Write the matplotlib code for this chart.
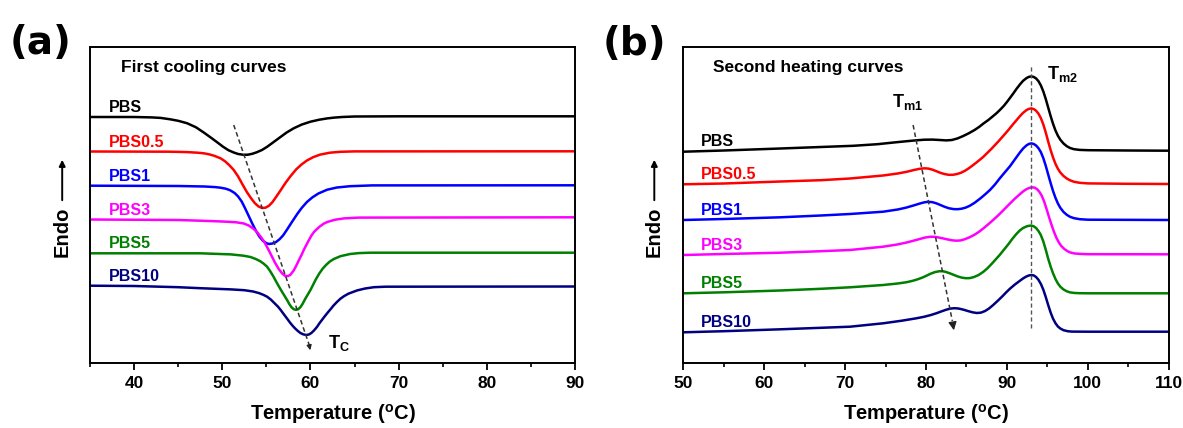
import matplotlib
matplotlib.use('Agg')
import matplotlib.pyplot as plt
from matplotlib.ticker import MultipleLocator

plt.rcParams['font.family'] = ['Liberation Sans', 'DejaVu Sans']
plt.rcParams['font.weight'] = 'bold'
plt.rcParams['mathtext.fontset'] = 'custom'
plt.rcParams['mathtext.rm'] = 'Liberation Sans:bold'
plt.rcParams['mathtext.it'] = 'Liberation Sans:bold'
plt.rcParams['mathtext.bf'] = 'Liberation Sans:bold'

# ---------------- data ----------------
names = ['PBS', 'PBS0.5', 'PBS1', 'PBS3', 'PBS5', 'PBS10']
colors = ['#000000', '#ff0000', '#0000ff', '#ff00ff', '#008000', '#000080']

# (a) first cooling curves (stacked, arbitrary units)
cool_pbs_T = [35, 40, 42, 43, 44.1, 45, 46, 47, 47.9, 48.8, 49.5, 50.1, 50.7, 51.3, 51.8, 52.4, 52.9, 53.4, 53.9,
              54.5, 55.1, 55.8, 56.6, 57.3, 58.1, 59.0, 60.0, 61.0, 61.9, 62.7, 63.6, 65, 70, 90]
cool_pbs_y = [246, 246, 245.6, 245.1, 243.7, 242.2, 239.8, 235.8, 230.5, 224.8, 220.2, 216.2, 212.8, 210.5, 209,
              208.2, 208.3, 209.2, 210.7, 213, 216.3, 220.8, 226, 230.5, 234.7, 238.4, 241.3, 243.3, 244.6, 245.4,
              246, 246.5, 246.7, 246.7]

cool_pbs05_T = [35, 44, 46, 47.2, 47.9, 48.5, 49.1, 49.8, 50.3, 50.8, 51.3, 51.8, 52.3, 52.8, 53.3, 53.7, 54.1,
                54.5, 54.9, 55.3, 55.7, 56.1, 56.6, 57.2, 57.8, 58.4, 59.0, 59.6, 60.3, 61.1, 62.2, 63.4, 65, 90]
cool_pbs05_y = [211.5, 211.3, 210.9, 210.3, 209.7, 208.7, 207.2, 204.7, 201.8, 197.8, 193, 186.5, 178.5, 170.8,
                164.3, 159.8, 156.6, 155, 155.3, 157.3, 161, 166, 172.5, 180.5, 187.5, 193.8, 198.6, 202.5, 205.8,
                208.4, 210.3, 211.2, 211.6, 211.7]

cool_pbs1_T = [35, 45, 48, 49.2, 49.8, 50.4, 50.9, 51.4, 51.8, 52.2, 52.6, 53.0, 53.4, 53.8, 54.2, 54.6, 55.0,
               55.3, 55.7, 56.1, 56.5, 56.9, 57.35, 57.9, 58.5, 59.0, 59.6, 60.2, 60.9, 61.9, 63.0, 64.5, 67, 90]
cool_pbs1_y = [177.3, 177, 176.5, 175.9, 175.3, 174.3, 172.7, 170, 166.5, 161.5, 154.5, 147, 139.5, 132.5, 126.5,
               122.3, 119.8, 119, 119.5, 121, 123.8, 127.6, 133.5, 141, 149, 155, 161, 165.5, 169.5, 173.3, 175.5,
               176.8, 177.6, 177.7]

cool_pbs3_T = [35, 45, 47.5, 50, 51.5, 52.4, 53.0, 53.5, 53.94, 54.4, 54.8, 55.2, 55.6, 56.0, 56.4, 56.8, 57.1,
               57.4, 57.7, 58.1, 58.4, 58.7, 59.0, 59.24, 59.5, 59.8, 60.1, 60.4, 60.8, 61.1, 61.5, 61.9, 62.8,
               63.8, 65.5, 90]
cool_pbs3_y = [143.5, 143, 142.3, 141.5, 140.8, 139.6, 137.5, 134.5, 131, 125.8, 120.5, 114, 107, 100, 94, 89.5,
               87.3, 86.8, 88, 92.5, 97.5, 103, 108.3, 113, 117.5, 122.5, 127.3, 131, 134.5, 136.8, 139.3, 141,
               143.3, 144.6, 145.4, 145.7]

cool_pbs5_T = [35, 47.5, 51, 52.4, 53.2, 53.8, 54.3, 54.7, 55.08, 55.4, 55.8, 56.2, 56.6, 57.0, 57.35, 57.6, 57.85,
               58.1, 58.35, 58.6, 58.86, 59.1, 59.4, 59.7, 60.0, 60.3, 60.6, 61.0, 61.4, 61.8, 62.2, 62.65, 63.4,
               64.5, 65.5, 66.8, 90]
cool_pbs5_y = [109.7, 109.7, 108.6, 107.3, 106, 104, 101.8, 99.3, 96.3, 92.3, 86.5, 80, 73.8, 68, 63, 59, 55.8,
               53.8, 53.2, 53.7, 55.8, 59, 64, 68.5, 73, 78.2, 83.5, 89.5, 94.5, 98.3, 101.5, 104, 106.8, 109,
               109.9, 110.3, 110.3]

cool_pbs10_T = [35, 40, 45, 47.5, 51, 52.5, 53.5, 54.2, 54.7, 55.08, 55.5, 55.9, 56.3, 56.6, 57.0, 57.4, 57.7,
                58.0, 58.3, 58.6, 58.86, 59.2, 59.55, 59.85, 60.1, 60.4, 60.76, 61.0, 61.3, 61.6, 61.9, 62.3, 62.6,
                63.0, 63.4, 63.8, 64.3, 65.3, 66.2, 67.2, 68.5, 90]
cool_pbs10_y = [77.3, 77, 75.8, 74.8, 73.6, 72.8, 71.5, 69.8, 68, 66.3, 63.5, 60, 56.5, 53.3, 48.5, 43.8, 40.2, 37,
                34.2, 31.8, 30, 28.6, 28, 28.6, 30, 32.5, 36.3, 39.5, 43, 46.5, 49.8, 54, 57.3, 61, 64.3, 66.8,
                69.3, 72.6, 74.5, 75.8, 76.3, 76.5]

# (b) second heating curves (stacked, arbitrary units)
heat_pbs_T = [50, 55, 62, 67, 71, 74, 76, 77.5, 78.8, 79.8, 80.8, 81.7, 82.5, 83.2, 83.9, 84.6, 85.3, 86.0, 86.6,
              87.1, 87.7, 88.2, 88.7, 89.1, 89.6, 90.0, 90.4, 90.8, 91.2, 91.6, 92.0, 92.4, 92.7, 93.0, 93.3, 93.6,
              93.9, 94.2, 94.5, 94.8, 95.1, 95.4, 95.7, 96.0, 96.3, 96.6, 97.0, 97.4, 97.8, 98.3, 99, 100, 105, 110]
heat_pbs_y = [211.3, 212.5, 214.5, 216, 217.2, 218.8, 220.5, 221.7, 222.7, 223.3, 223.4, 223, 222.6, 223, 224.6,
              227, 229.8, 233, 236.3, 239.5, 243, 246.3, 249.7, 252.8, 257, 261, 265.3, 269.7, 274.3, 278.5,
              282.2, 284.8, 286.1, 286.6, 286.1, 284.6, 281.8, 277.5, 271.5, 264, 255.5, 247, 239.2, 232.5, 227.3,
              223.3, 219.5, 216.8, 215, 213.8, 213.1, 212.8, 212.5, 212.3]

heat_pbs05_T = [50, 55, 62, 67, 70.6, 74.7, 76.5, 77.6, 78.5, 79.2, 79.8, 80.3, 80.8, 81.3, 81.8, 82.3, 82.8, 83.3,
                83.8, 84.3, 84.8, 85.3, 85.8, 86.4, 87.1, 87.6, 88.1, 88.6, 89.1, 89.6, 90.2, 90.7, 91.2, 91.6,
                92.0, 92.4, 92.7, 93.0, 93.3, 93.6, 93.9, 94.2, 94.5, 94.8, 95.1, 95.4, 95.7, 96.0, 96.3, 96.6,
                97.0, 97.4, 97.8, 98.3, 99, 100, 105, 110]
heat_pbs05_y = [178.7, 179.5, 181.5, 182.8, 184.5, 187.5, 189.5, 191.2, 193, 194.2, 194.7, 194.4, 193.3, 191.7,
                190.1, 188.9, 188.2, 188.2, 188.9, 190.2, 192.2, 194.8, 197.8, 201.6, 206.3, 210.3, 214.3, 218.6,
                223, 227.6, 233.2, 238.2, 243, 246.8, 250.2, 252.8, 254.1, 254.6, 254, 252.3, 249.3, 244.8, 238.5,
                230.5, 221.5, 213, 205.5, 199.2, 194.2, 190.5, 187, 184.5, 182.7, 181.2, 180.2, 179.6, 179.2, 179]

heat_pbs1_T = [50, 55, 62, 67, 70.6, 74.7, 76.5, 77.5, 78.4, 79.2, 79.8, 80.3, 80.8, 81.3, 81.8, 82.3, 82.8, 83.4,
               83.9, 84.4, 84.9, 85.4, 86.0, 86.7, 87.3, 87.9, 88.5, 89.1, 89.7, 90.4, 91.0, 91.6, 92.0, 92.4, 92.7,
               93.0, 93.3, 93.6, 93.9, 94.2, 94.5, 94.8, 95.1, 95.4, 95.7, 96.0, 96.3, 96.6, 97.0, 97.4, 97.8, 98.3,
               99, 100, 110]
heat_pbs1_y = [143, 144, 145.7, 147.5, 149, 151.3, 153.5, 155.3, 157.4, 159.4, 160.7, 161.2, 160.8, 159.6, 157.9,
               156.2, 154.8, 153.9, 153.8, 154.3, 155.4, 157.2, 160.2, 164.5, 168.6, 173, 178.3, 184.5, 190.3, 197,
               203.8, 210.5, 214.5, 217.5, 219, 219.6, 219.1, 217.5, 214.8, 210.8, 204.8, 197.2, 188.5, 180, 172,
               165.2, 159.5, 155.2, 151, 148.2, 146.2, 144.8, 143.8, 143.3, 143]

heat_pbs3_T = [50, 55, 62, 67, 70.6, 74.7, 76.5, 77.6, 78.5, 79.3, 79.9, 80.5, 81.0, 81.5, 82.1, 82.7, 83.3, 83.8,
               84.3, 84.8, 85.4, 86.0, 86.6, 87.3, 87.8, 88.3, 88.9, 89.4, 89.9, 90.4, 91.0, 91.6, 92.0, 92.4, 92.8,
               93.1, 93.4, 93.7, 94.0, 94.3, 94.6, 94.9, 95.2, 95.5, 95.8, 96.1, 96.4, 96.7, 97.1, 97.5, 97.8, 98.3,
               99, 100, 110]
heat_pbs3_y = [108, 109, 110.3, 111.8, 113, 116.3, 118.6, 120.5, 122.4, 124.2, 125.5, 126.2, 126.2, 125.6, 124.6,
               123.5, 122.6, 122.3, 122.6, 123.8, 125.8, 128.3, 131.5, 136, 139.5, 143, 147.5, 151.5, 155.6, 159.7,
               164.5, 168.8, 171.6, 173.8, 175.2, 175.7, 175.4, 174, 171.3, 167.3, 161.5, 154, 146, 138.5, 131.5,
               125.5, 120.8, 117.2, 114, 111.8, 110.6, 109.6, 109.1, 108.8, 108.7]

heat_pbs5_T = [50, 55, 62, 67, 70.6, 74.7, 76.5, 77.6, 78.4, 79.0, 79.6, 80.1, 80.6, 81.1, 81.6, 82.0, 82.4, 82.9,
               83.4, 83.9, 84.4, 84.9, 85.4, 85.9, 86.5, 87.1, 87.6, 88.1, 88.6, 89.1, 89.6, 90.2, 90.7, 91.2, 91.6,
               92.0, 92.4, 92.7, 93.0, 93.3, 93.6, 93.9, 94.2, 94.5, 94.8, 95.1, 95.4, 95.7, 96.0, 96.3, 96.6, 97.0,
               97.4, 97.8, 98.4, 99, 100, 110]
heat_pbs5_y = [69.7, 70.7, 72.5, 74.2, 75.7, 78, 79.5, 80.8, 82.3, 83.8, 85.6, 87.5, 89.4, 90.9, 91.7, 91.8, 91.2,
               89.8, 88.2, 86.6, 85.4, 84.8, 84.9, 85.9, 88, 91.3, 94.8, 99, 103.5, 108, 113, 119, 124.5, 129.3,
               132.6, 135, 136.5, 137.2, 137.4, 136.8, 135, 132, 127.8, 121.5, 113.3, 104.3, 96.5, 89.7, 84, 79.5,
               76.3, 73.5, 71.7, 70.6, 70, 69.8, 69.7, 69.7]

heat_pbs10_T = [50, 55, 62, 67, 70.6, 74.7, 77, 78.8, 79.8, 80.6, 81.3, 81.9, 82.5, 83.0, 83.5, 84.0, 84.6, 85.2,
                85.8, 86.3, 86.8, 87.3, 87.8, 88.3, 88.9, 89.4, 89.9, 90.4, 91.0, 91.6, 92.0, 92.4, 92.7, 93.0, 93.3,
                93.6, 93.9, 94.2, 94.5, 94.8, 95.1, 95.4, 95.7, 96.0, 96.3, 96.6, 97.0, 97.5, 98, 100, 110]
heat_pbs10_y = [30.7, 31.8, 33.7, 35.2, 36.3, 39.7, 42.3, 44.7, 46.3, 48, 49.8, 51.6, 53.3, 54.4, 54.8, 54.5, 53.4,
                51.9, 50.6, 50, 50.4, 52, 54.6, 58, 62.5, 66.4, 70.6, 74.5, 78.6, 82.2, 84.6, 86.5, 87.5, 88, 87.6,
                86, 83.2, 79, 73.3, 66, 58, 50.5, 44.3, 39.8, 36.5, 34.5, 32.8, 31.8, 31.4, 31.3, 31.3]

cool_T = [cool_pbs_T, cool_pbs05_T, cool_pbs1_T, cool_pbs3_T, cool_pbs5_T, cool_pbs10_T]
cool_y = [cool_pbs_y, cool_pbs05_y, cool_pbs1_y, cool_pbs3_y, cool_pbs5_y, cool_pbs10_y]
heat_T = [heat_pbs_T, heat_pbs05_T, heat_pbs1_T, heat_pbs3_T, heat_pbs5_T, heat_pbs10_T]
heat_y = [heat_pbs_y, heat_pbs05_y, heat_pbs1_y, heat_pbs3_y, heat_pbs5_y, heat_pbs10_y]

# ---------------- figure ----------------
W, H = 1183, 428
fig = plt.figure(figsize=(W / 100, H / 100), dpi=100)
axA = fig.add_axes([90 / W, 65 / H, 485 / W, 316 / H])
axB = fig.add_axes([683.4 / W, 65 / H, 485.3 / W, 316 / H])


def style(ax, xlim, major, minor):
    ax.set_xlim(*xlim)
    ax.set_ylim(0, 316)
    ax.set_yticks([])
    ax.xaxis.set_major_locator(MultipleLocator(major))
    ax.xaxis.set_minor_locator(MultipleLocator(minor))
    ax.tick_params(axis='x', which='major', direction='out', length=5, width=1.3,
                   labelsize=12.5, pad=4, colors='black')
    ax.tick_params(axis='x', which='minor', direction='out', length=3, width=1.2)
    for s in ax.spines.values():
        s.set_linewidth(1.4)


style(axA, (35, 90), 10, 5)
style(axB, (50, 110), 10, 5)

for T, y, n, c in zip(cool_T, cool_y, names, colors):
    axA.plot(T, y, color=c, lw=1.8, solid_joinstyle='round')
    axA.text(37.1, y[0] + 5, n, color=c, fontsize=11.5, fontweight='bold', va='baseline', ha='left')

for T, y, n, c in zip(heat_T, heat_y, names, colors):
    axB.plot(T, y, color=c, lw=1.8, solid_joinstyle='round')
    axB.text(52.2, y[0] + 5.5, n, color=c, fontsize=11.5, fontweight='bold', va='baseline', ha='left')

dash = (0, (3, 2))
# cooling: Tc trend arrow
axA.plot([51.3, 59.9], [238, 17], ls=dash, lw=1.1, color='#333333')
axA.annotate('', xy=(60.05, 10), xytext=(59.85, 18),
             arrowprops=dict(arrowstyle='-|>', color='#222222', lw=1, mutation_scale=7))
axA.text(62.0, 15, r'T$_{\rm C}$', fontsize=13, fontweight='bold', va='baseline', ha='left')
axA.text(38.5, 291.3, 'First cooling curves', fontsize=12.5, fontweight='bold', va='baseline', ha='left')

# heating: Tm1 trend arrow and Tm2 line
axB.plot([78.4, 83.25], [238, 42], ls=dash, lw=1.1, color='#333333')
axB.annotate('', xy=(83.5, 30), xytext=(83.25, 42),
             arrowprops=dict(arrowstyle='-|>', color='#222222', lw=1, mutation_scale=12))
axB.plot([93.0, 93.0], [35, 298], ls=dash, lw=1.0, color='#555555')
axB.text(75.75, 256.3, r'T$_{\rm m1}$', fontsize=13, fontweight='bold', va='baseline', ha='left')
axB.text(94.95, 284, r'T$_{\rm m2}$', fontsize=13, fontweight='bold', va='baseline', ha='left')
axB.text(53.6, 291.3, 'Second heating curves', fontsize=12.5, fontweight='bold', va='baseline', ha='left')

# x labels
for cx in (332.5, 926):
    fig.text(cx / W, 1 - 414 / H, r'Temperature ($^{\rm o}$C)', ha='center', va='center',
             fontsize=14.5, fontweight='bold')

# Endo labels with arrows
for ex in (62.2, 654.3):
    fig.text(ex / W, 1 - 232 / H, 'Endo', rotation=90, ha='center', va='center',
             fontsize=14.5, fontweight='bold')
    fig.add_artist(matplotlib.patches.FancyArrowPatch(
        (ex / W, 1 - 203 / H), (ex / W, 1 - 157 / H), transform=fig.transFigure,
        arrowstyle='-|>', mutation_scale=9, lw=1.4, color='black'))

# panel letters
fig.text(41 / W, 1 - 43 / H, '(a)', fontsize=28, fontfamily='DejaVu Sans', fontweight='bold',
         ha='center', va='center')
fig.text(634 / W, 1 - 44 / H, '(b)', fontsize=28, fontfamily='DejaVu Sans', fontweight='bold',
         ha='center', va='center')

fig.savefig('out.png', dpi=100)
